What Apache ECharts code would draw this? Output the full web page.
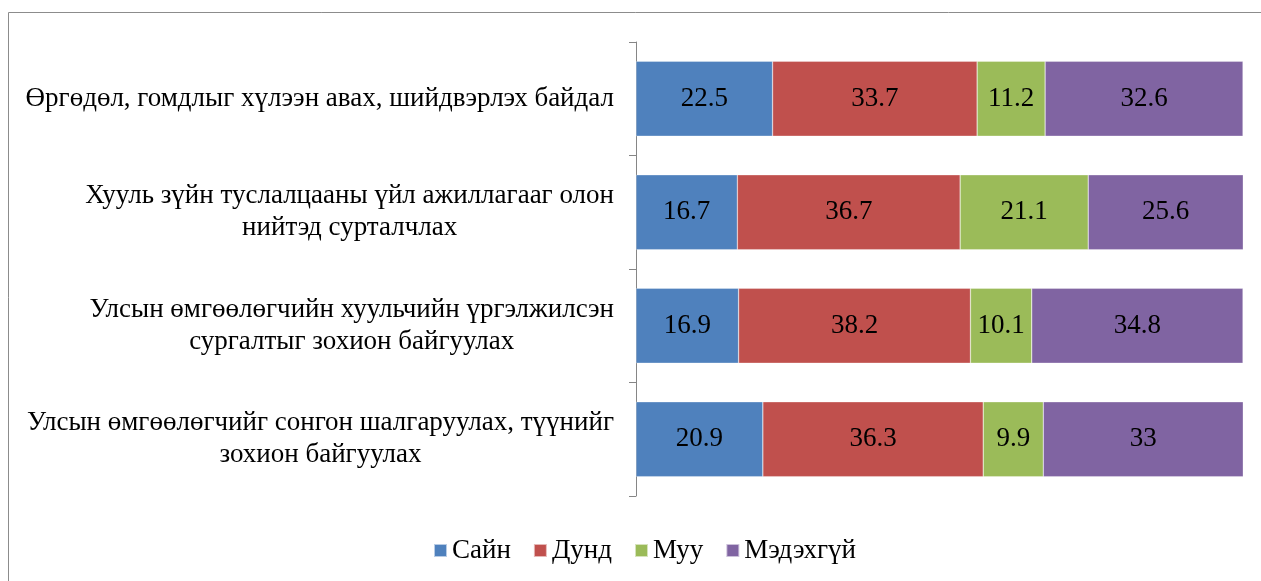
<!DOCTYPE html>
<html>
<head>
<meta charset="utf-8">
<script src="https://cdn.jsdelivr.net/npm/echarts@6/dist/echarts.min.js"></script>
<style>html,body{margin:0;padding:0;background:#fff}#c{width:1261px;height:581px}</style>
</head>
<body>
<div id="c"></div>
<script>
const categories = [
  "Өргөдөл, гомдлыг хүлээн авах, шийдвэрлэх байдал",
  "Хууль зүйн туслалцааны үйл ажиллагааг олон нийтэд сурталчлах",
  "Улсын өмгөөлөгчийн хуульчийн үргэлжилсэн сургалтыг зохион байгуулах",
  "Улсын өмгөөлөгчийг сонгон шалгаруулах, түүнийг зохион байгуулах"
];
const seriesNames = ["Сайн", "Дунд", "Муу", "Мэдэхгүй"];
const sain = [22.5, 16.7, 16.9, 20.9];
const dund = [33.7, 36.7, 38.2, 36.3];
const muu = [11.2, 21.1, 10.1, 9.9];
const medehgui = [32.6, 25.6, 34.8, 33];
const colors = ["#4F81BD", "#C0504D", "#9BBB59", "#8064A2"];

const font = "'Liberation Serif', 'Times New Roman', serif";
const fontSize = 27;
const values = [sain, dund, muu, medehgui];

// word-wrap by measured width
const ctx = document.createElement('canvas').getContext('2d');
ctx.font = fontSize + "px " + font;
function wrap(text, maxW) {
  const words = text.split(' ');
  const lines = [];
  let cur = '';
  words.forEach(w => {
    const t = cur ? cur + ' ' + w : w;
    if (cur && ctx.measureText(t).width > maxW) { lines.push(cur); cur = w; }
    else cur = t;
  });
  if (cur) lines.push(cur);
  return lines;
}

const chart = echarts.init(document.getElementById('c'), null, {renderer: 'canvas'});
chart.setOption({
  animation: false,
  color: colors,
  textStyle: {fontFamily: font},
  graphic: [{
    type: 'rect', silent: true,
    shape: {x: 8.5, y: 12.5, width: 1400, height: 800},
    style: {fill: 'none', stroke: '#8c8c8c', lineWidth: 1}
  }],
  grid: {left: 636, right: 18, top: 42, bottom: 85, containLabel: false},
  xAxis: {type: 'value', min: 0, max: 100, show: false},
  yAxis: {
    type: 'category', data: categories, inverse: true,
    axisLine: {show: true, lineStyle: {color: '#868686', width: 1}},
    axisTick: {show: true, length: 7, lineStyle: {color: '#868686'}},
    axisLabel: {
      margin: 22, align: 'right',
      formatter: v => wrap(v, 600).map(l => '{c|' + l + '}').join('\n'),
      rich: {c: {fontFamily: font, fontSize: fontSize, color: '#000', lineHeight: 32, align: 'center'}}
    }
  },
  legend: {
    bottom: 12, left: 428, itemWidth: 13, itemHeight: 13, itemGap: 22,
    icon: 'rect',
    textStyle: {fontFamily: font, fontSize: fontSize, color: '#000'},
    data: seriesNames
  },
  series: seriesNames.map((n, i) => ({
    name: n, type: 'bar', stack: 'total', data: values[i],
    barCategoryGap: '34%',
    itemStyle: {color: colors[i], borderColor: 'rgba(255,255,255,0.6)', borderWidth: 0.5},
    label: {show: true, position: 'inside', fontFamily: font, fontSize: fontSize, color: '#000'}
  }))
});
</script>
</body>
</html>
